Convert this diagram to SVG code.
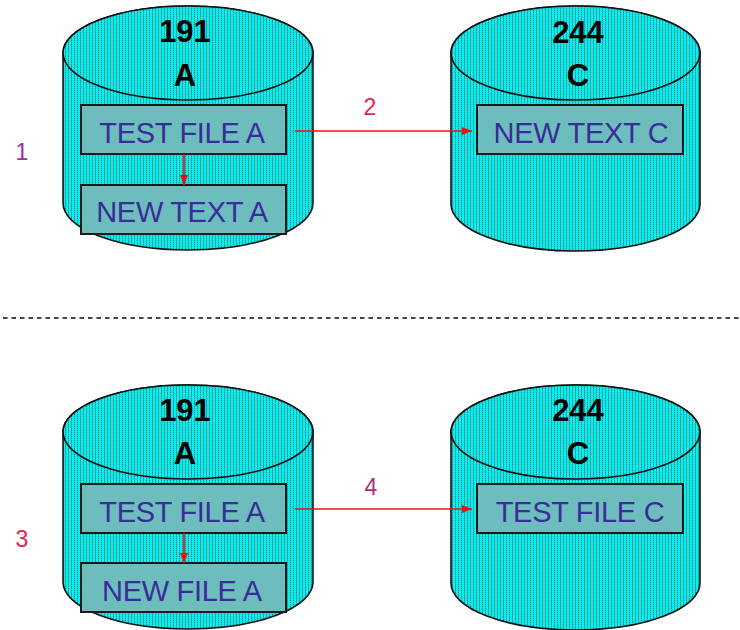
<svg xmlns="http://www.w3.org/2000/svg" width="740" height="630" viewBox="0 0 740 630">
  <defs>
    <pattern id="cyl" width="3" height="2" patternUnits="userSpaceOnUse">
      <rect width="3" height="2" fill="#00f2f2"/>
      <rect x="2" width="1" height="1" fill="#1a8f8f"/>
      <rect x="2" y="1" width="1" height="1" fill="#33b3b3"/>
    </pattern>
    <pattern id="boxp" width="2" height="2" patternUnits="userSpaceOnUse">
      <rect width="2" height="2" fill="#5ccaca"/>
      <rect width="1" height="1" fill="#7fb0b0"/>
      <rect x="1" y="1" width="1" height="1" fill="#7fb0b0"/>
    </pattern>
    <marker id="ah" viewBox="0 0 10 10" refX="10" refY="5" markerWidth="10" markerHeight="10" markerUnits="userSpaceOnUse" orient="auto">
      <path d="M0,1 L10,5 L0,9 Z" fill="#ee1111"/>
    </marker>
    <style>
      .cyl { fill: url(#cyl); stroke: #111; stroke-width: 1.6; }
      .box { fill: url(#boxp); stroke: #1a1a1a; stroke-width: 2; }
      .big { font-family: "Liberation Sans", Arial, sans-serif; font-weight: bold; font-size: 31px; fill: #000; text-anchor: middle; }
      .lbl { font-family: "Liberation Sans", Arial, sans-serif; font-size: 29px; fill: #3a2c99; text-anchor: middle; letter-spacing: -0.3px; }
      .num { font-family: "Liberation Sans", Arial, sans-serif; font-size: 23px; text-anchor: middle; }
      .conn { stroke: #ee1111; stroke-width: 1.6; fill: none; }
    </style>
  </defs>

  <g id="disk-191-top">
    <path class="cyl" d="M63,53 L63,203 A125,47 0 0 0 313,203 L313,53 A125,47 0 0 0 63,53 Z"/>
    <ellipse class="cyl" cx="188" cy="53" rx="125" ry="47"/>
    <text class="big" x="185" y="42">191</text>
    <text class="big" x="185" y="86">A</text>
  </g>
  <g id="box-test-file-a-top">
    <rect class="box" x="81" y="105" width="205" height="49"/>
    <text class="lbl" x="182" y="143">TEST FILE A</text>
  </g>
  <g id="box-new-text-a">
    <rect class="box" x="81" y="185" width="205" height="49"/>
    <text class="lbl" x="182" y="222">NEW TEXT A</text>
  </g>

  <g id="disk-244-top">
    <path class="cyl" d="M451,53 L451,204 A124.5,47 0 0 0 700,204 L700,53 A124.5,47 0 0 0 451,53 Z"/>
    <ellipse class="cyl" cx="575.5" cy="53" rx="124.5" ry="47"/>
    <text class="big" x="578" y="43">244</text>
    <text class="big" x="578" y="86">C</text>
  </g>
  <g id="box-new-text-c">
    <rect class="box" x="477" y="105" width="206" height="49"/>
    <text class="lbl" x="581" y="143">NEW TEXT C</text>
  </g>

  <g id="disk-191-bottom">
    <path class="cyl" d="M63,432 L63,582 A125,47 0 0 0 313,582 L313,432 A125,47 0 0 0 63,432 Z"/>
    <ellipse class="cyl" cx="188" cy="432" rx="125" ry="47"/>
    <text class="big" x="185" y="421">191</text>
    <text class="big" x="185" y="464">A</text>
  </g>
  <g id="box-test-file-a-bottom">
    <rect class="box" x="81" y="484" width="205" height="49"/>
    <text class="lbl" x="182" y="522">TEST FILE A</text>
  </g>
  <g id="box-new-file-a">
    <rect class="box" x="81" y="563" width="205" height="49"/>
    <text class="lbl" x="182" y="601">NEW FILE A</text>
  </g>

  <g id="disk-244-bottom">
    <path class="cyl" d="M451,432 L451,583 A124.5,47 0 0 0 700,583 L700,432 A124.5,47 0 0 0 451,432 Z"/>
    <ellipse class="cyl" cx="575.5" cy="432" rx="124.5" ry="47"/>
    <text class="big" x="578" y="421">244</text>
    <text class="big" x="578" y="464">C</text>
  </g>
  <g id="box-test-file-c">
    <rect class="box" x="477" y="484" width="206" height="49"/>
    <text class="lbl" x="580" y="522">TEST FILE C</text>
  </g>

  <g id="connectors">
    <line class="conn" x1="184" y1="154" x2="184" y2="185" marker-end="url(#ah)"/>
    <line class="conn" x1="295" y1="131" x2="472" y2="131" marker-end="url(#ah)"/>
    <line class="conn" x1="184" y1="533" x2="184" y2="563" marker-end="url(#ah)"/>
    <line class="conn" x1="295" y1="509" x2="472" y2="509" marker-end="url(#ah)"/>
  </g>

  <g id="labels">
    <text class="num" x="22" y="160" fill="#9a2f9f">1</text>
    <text class="num" x="370" y="115" fill="#e6224a">2</text>
    <text class="num" x="22" y="547" fill="#e6224a">3</text>
    <text class="num" x="371" y="495" fill="#b02a80">4</text>
  </g>

  <line id="separator" x1="3" y1="318" x2="740" y2="318" stroke="#444" stroke-width="2" stroke-dasharray="4.5 4"/>
</svg>
